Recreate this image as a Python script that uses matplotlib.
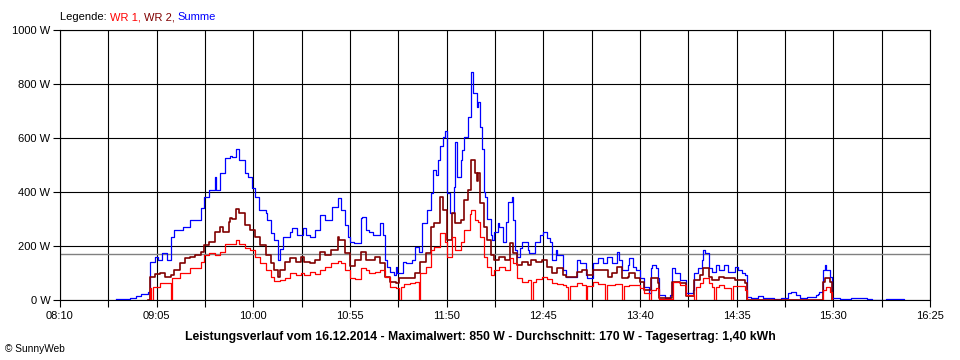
import matplotlib
matplotlib.use("Agg")
import matplotlib.pyplot as plt
import numpy as np

summe_t = ["08:42", "08:46", "08:50", "08:53", "08:56", "09:00", "09:01", "09:04", "09:06", "09:08",
           "09:10", "09:11", "09:13", "09:15", "09:20", "09:24", "09:30", "09:32", "09:35", "09:38",
           "09:39", "09:41", "09:44", "09:47", "09:48", "09:50", "09:52", "09:55", "09:57", "09:59",
           "10:01", "10:03", "10:05", "10:07", "10:08", "10:10", "10:12", "10:14", "10:15", "10:17",
           "10:21", "10:22", "10:25", "10:28", "10:30", "10:32", "10:35", "10:38", "10:41", "10:45",
           "10:48", "10:50", "10:52", "10:54", "10:55", "10:57", "11:01", "11:02", "11:04", "11:06",
           "11:08", "11:12", "11:14", "11:15", "11:16", "11:18", "11:20", "11:21", "11:22", "11:25",
           "11:27", "11:30", "11:32", "11:34", "11:36", "11:39", "11:41", "11:42", "11:44", "11:45",
           "11:46", "11:48", "11:49", "11:50", "11:52", "11:54", "11:55", "11:56", "11:58", "11:59",
           "12:00", "12:02", "12:04", "12:05", "12:07", "12:08", "12:09", "12:10", "12:11", "12:12",
           "12:13", "12:15", "12:16", "12:17", "12:19", "12:20", "12:22", "12:24", "12:25", "12:27",
           "12:28", "12:29", "12:30", "12:32", "12:33", "12:36", "12:37", "12:40", "12:43", "12:45",
           "12:47", "12:49", "12:50", "12:52", "12:53", "12:56", "12:58", "13:01", "13:04", "13:06",
           "13:09", "13:10", "13:13", "13:16", "13:19", "13:21", "13:24", "13:27", "13:28", "13:30",
           "13:33", "13:34", "13:36", "13:38", "13:40", "13:42", "13:45", "13:46", "13:47", "13:49",
           "13:50", "13:51", "13:54", "13:57", "13:58", "14:00", "14:03", "14:05", "14:06", "14:08",
           "14:10", "14:11", "14:13", "14:15", "14:16", "14:17", "14:19", "14:21", "14:23", "14:25",
           "14:28", "14:30", "14:34", "14:36", "14:38", "14:40", "14:41", "14:43", "14:47", "14:50",
           "14:56", "15:00", "15:04", "15:06", "15:09", "15:11", "15:15", "15:20", "15:21", "15:22",
           "15:24", "15:25", "15:26", "15:28", "15:29", "15:34", "15:40", "15:49", "15:52", "16:00",
           "16:10"]
summe_w = [4, 4, 8, 15, 22, 30, 140, 160, 150, 175,
           175, 150, 233, 260, 270, 296, 340, 381, 407, 456,
           407, 470, 526, 535, 530, 559, 519, 470, 456, 415,
           381, 333, 333, 322, 296, 248, 222, 150, 190, 233,
           252, 267, 241, 267, 241, 233, 259, 315, 296, 344,
           378, 333, 278, 233, 215, 211, 304, 307, 259, 252,
           241, 285, 240, 150, 122, 104, 93, 122, 100, 141,
           137, 148, 196, 178, 285, 333, 396, 481, 463, 519,
           570, 604, 626, 396, 322, 419, 585, 456, 519, 556,
           604, 678, 844, 767, 715, 733, 641, 560, 400, 380,
           300, 241, 222, 252, 285, 270, 215, 289, 363, 381,
           296, 185, 159, 193, 215, 185, 174, 215, 241, 252,
           230, 215, 148, 185, 167, 111, 85, 85, 148, 137,
           93, 81, 137, 156, 137, 159, 137, 178, 148, 111,
           130, 156, 122, 111, 81, 48, 26, 118, 130, 118,
           81, 19, 7, 19, 118, 100, 74, 74, 26, 26,
           37, 100, 118, 148, 185, 174, 118, 104, 130, 111,
           130, 104, 122, 111, 100, 93, 11, 7, 15, 7,
           4, 7, 26, 30, 19, 7, 11, 19, 22, 30,
           111, 130, 111, 85, 7, 4, 7, 4, 0, 4,
           0]

wr1_t = ["09:00", "09:01", "09:02", "09:03", "09:07", "09:13", "09:14", "09:18", "09:24", "09:30",
         "09:32", "09:35", "09:38", "09:41", "09:44", "09:47", "09:50", "09:52", "09:55", "09:58",
         "10:01", "10:04", "10:07", "10:10", "10:12", "10:15", "10:18", "10:21", "10:24", "10:27",
         "10:29", "10:32", "10:35", "10:38", "10:41", "10:44", "10:48", "10:50", "10:52", "10:55",
         "10:58", "11:01", "11:04", "11:06", "11:09", "11:12", "11:15", "11:18", "11:21", "11:23",
         "11:24", "11:26", "11:29", "11:32", "11:34", "11:35", "11:38", "11:41", "11:43", "11:46",
         "11:49", "11:50", "11:53", "11:55", "11:58", "12:00", "12:03", "12:04", "12:06", "12:08",
         "12:09", "12:11", "12:13", "12:15", "12:17", "12:20", "12:23", "12:26", "12:28", "12:30",
         "12:33", "12:36", "12:38", "12:39", "12:41", "12:44", "12:47", "12:50", "12:53", "12:56",
         "12:58", "12:59", "13:00", "13:04", "13:07", "13:09", "13:10", "13:13", "13:16", "13:20",
         "13:21", "13:26", "13:30", "13:31", "13:34", "13:40", "13:42", "13:45", "13:46", "13:49",
         "13:50", "13:51", "13:58", "13:59", "14:03", "14:05", "14:06", "14:11", "14:12", "14:14",
         "14:16", "14:19", "14:21", "14:22", "14:23", "14:25", "14:28", "14:32", "14:33", "14:40",
         "14:41", "15:24", "15:26", "15:28", "15:29"]
wr1_w = [0, 44, 0, 50, 63, 0, 81, 100, 118, 141,
         167, 174, 167, 178, 207, 207, 222, 207, 193, 185,
         159, 137, 111, 85, 70, 74, 81, 100, 93, 100,
         93, 104, 96, 111, 122, 137, 144, 137, 111, 80,
         78, 118, 111, 100, 104, 111, 85, 48, 44, 0,
         48, 59, 63, 67, 0, 100, 122, 185, 196, 248,
         215, 159, 233, 185, 215, 259, 320, 333, 296, 290,
         233, 159, 122, 93, 111, 122, 111, 156, 137, 81,
         67, 74, 0, 67, 78, 85, 78, 63, 59, 56,
         48, 0, 52, 63, 56, 0, 52, 67, 60, 0,
         55, 59, 0, 52, 55, 44, 26, 0, 37, 44,
         40, 5, 0, 67, 56, 56, 20, 0, 48, 63,
         81, 63, 48, 0, 48, 56, 44, 0, 52, 37,
         0, 37, 48, 30, 0]

wr2_t = ["09:00", "09:01", "09:04", "09:07", "09:10", "09:13", "09:15", "09:18", "09:21", "09:24",
         "09:27", "09:30", "09:32", "09:35", "09:38", "09:41", "09:43", "09:46", "09:47", "09:48",
         "09:50", "09:52", "09:55", "09:58", "10:01", "10:04", "10:07", "10:10", "10:12", "10:14",
         "10:15", "10:18", "10:21", "10:24", "10:27", "10:29", "10:32", "10:35", "10:38", "10:41",
         "10:44", "10:48", "10:49", "10:52", "10:55", "10:58", "11:01", "11:04", "11:06", "11:09",
         "11:12", "11:15", "11:18", "11:21", "11:23", "11:26", "11:29", "11:32", "11:35", "11:38",
         "11:41", "11:43", "11:46", "11:48", "11:50", "11:53", "11:55", "11:58", "12:00", "12:02",
         "12:04", "12:06", "12:07", "12:08", "12:09", "12:11", "12:13", "12:15", "12:17", "12:20",
         "12:23", "12:26", "12:28", "12:30", "12:33", "12:36", "12:38", "12:41", "12:44", "12:47",
         "12:50", "12:53", "12:56", "12:58", "13:01", "13:04", "13:07", "13:10", "13:13", "13:16",
         "13:19", "13:22", "13:24", "13:27", "13:30", "13:33", "13:34", "13:37", "13:40", "13:42",
         "13:46", "13:49", "13:50", "13:51", "13:58", "14:03", "14:05", "14:06", "14:10", "14:11",
         "14:14", "14:16", "14:19", "14:21", "14:25", "14:28", "14:34", "14:40", "14:41", "15:24",
         "15:25", "15:28", "15:29"]
wr2_w = [0, 85, 95, 100, 85, 93, 111, 137, 156, 159,
         167, 178, 204, 215, 252, 270, 252, 290, 305, 300,
         337, 322, 278, 259, 233, 204, 167, 137, 111, 85,
         111, 141, 156, 141, 159, 141, 137, 148, 178, 167,
         185, 233, 222, 174, 126, 148, 178, 148, 148, 159,
         137, 85, 67, 63, 81, 81, 81, 100, 141, 174,
         270, 285, 381, 333, 222, 322, 285, 296, 370, 407,
         519, 470, 440, 470, 359, 270, 222, 167, 148, 159,
         148, 211, 174, 130, 141, 130, 148, 141, 148, 122,
         100, 118, 93, 85, 85, 104, 111, 93, 111, 111,
         111, 85, 100, 122, 81, 85, 100, 81, 67, 37,
         81, 81, 63, 8, 67, 63, 63, 15, 15, 74,
         93, 118, 85, 74, 85, 81, 74, 63, 0, 67,
         81, 67, 0]

datum = "16.12.2014"
maximalwert = 850   # W
durchschnitt = 170  # W
tagesertrag = "1,40"  # kWh

x_start, x_end = "08:10", "16:25"
y_ticks = [0, 200, 400, 600, 800, 1000]

C_WR1, C_WR2, C_SUM = "#ff0000", "#800000", "#0000ff"


def to_min(times):
    return np.array([int(s[:2]) * 60 + int(s[3:]) for s in times])


def fmt_hm(m):
    m = int(round(m))
    return f"{m // 60:02d}:{m % 60:02d}"


plt.rcParams["font.family"] = ["Liberation Sans", "DejaVu Sans"]

fig = plt.figure(figsize=(9.6, 3.6), dpi=100)
ax = fig.add_axes([60 / 960, 60 / 360, 870 / 960, 270 / 360])

ax.plot(to_min(summe_t), summe_w, drawstyle="steps-post", color=C_SUM, lw=0.9, zorder=3)
ax.plot(to_min(wr2_t), wr2_w, drawstyle="steps-post", color=C_WR2, lw=1.2, zorder=4)
ax.plot(to_min(wr1_t), wr1_w, drawstyle="steps-post", color=C_WR1, lw=0.9, zorder=5)
ax.axhline(durchschnitt, color="#808080", lw=1.0, zorder=2)

t0, t1 = to_min([x_start, x_end])
ax.set_xlim(t0, t1)
ax.set_ylim(0, 1000)

major = np.arange(t0, t1 + 1, 55)
minor = np.arange(t0, t1 + 1, 27.5)
ax.set_xticks(major, [fmt_hm(m) for m in major])
ax.set_xticks(minor, minor=True)
ax.set_yticks(y_ticks, [f"{v} W" for v in y_ticks])

ax.set_axisbelow(True)
ax.grid(True, which="both", axis="x", color="black", lw=0.8)
ax.grid(True, which="major", axis="y", color="black", lw=0.8)
ax.tick_params(axis="both", which="both", length=5, width=0.8, color="black",
               labelsize=8, labelcolor="black")
ax.tick_params(axis="x", pad=3)
ax.tick_params(axis="y", pad=2)
for sp in ax.spines.values():
    sp.set_color("black")
    sp.set_linewidth(0.8)

# Legende als farbiger Text oben links
fig.canvas.draw()
renderer = fig.canvas.get_renderer()
pieces = [("Legende: ", "black"), ("WR 1, ", C_WR1), ("WR 2, ", C_WR2), ("Summe", C_SUM)]
x_px = 60
for s, c in pieces:
    t = fig.text(x_px / 960, 1 - 17 / 360, s, color=c, fontsize=8, va="center", ha="left")
    x_px = t.get_window_extent(renderer).x1

titel = (f"Leistungsverlauf vom {datum} - Maximalwert: {maximalwert} W - "
         f"Durchschnitt: {durchschnitt} W - Tagesertrag: {tagesertrag} kWh")
fig.text(0.5, 1 - 337 / 360, titel, ha="center", va="center", fontsize=8.8, fontweight="bold")
fig.text(5 / 960, 1 - 349 / 360, "© SunnyWeb", ha="left", va="center", fontsize=7.3)

fig.savefig("out.png", dpi=100)
